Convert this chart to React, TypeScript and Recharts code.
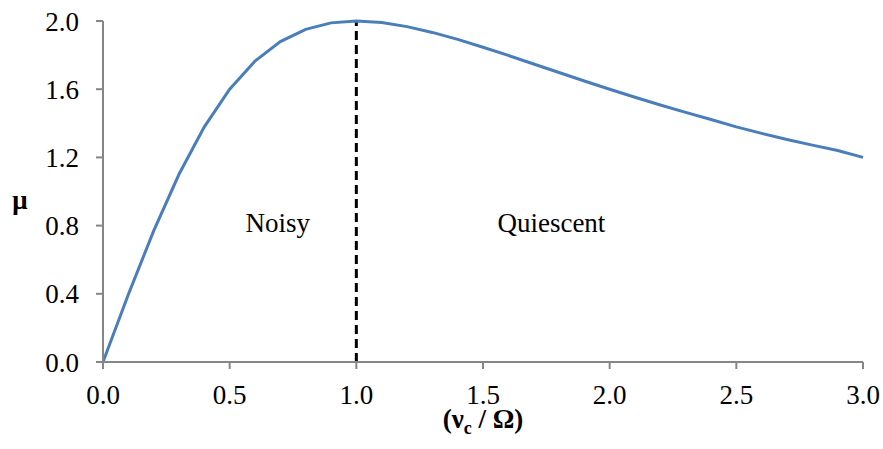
import React from 'react';
import {
  LineChart,
  Line,
  XAxis,
  YAxis,
  ReferenceLine,
  ReferenceDot,
} from 'recharts';

// frequency ratio (νc / Ω)
const ratio = [
  0, 0.1, 0.2, 0.3, 0.4, 0.5, 0.6, 0.7, 0.8, 0.9, 1.0, 1.1, 1.2, 1.3, 1.4, 1.5,
  1.6, 1.7, 1.8, 1.9, 2.0, 2.1, 2.2, 2.3, 2.4, 2.5, 2.6, 2.7, 2.8, 2.9, 3.0,
];
// μ at each ratio
const mu = [
  0, 0.396, 0.769, 1.101, 1.379, 1.6, 1.765, 1.879, 1.951, 1.989, 2.0, 1.991,
  1.967, 1.933, 1.892, 1.846, 1.798, 1.748, 1.698, 1.648, 1.6, 1.553, 1.507,
  1.464, 1.422, 1.379, 1.341, 1.305, 1.272, 1.240, 1.2,
];

const xTicks = [0, 0.5, 1.0, 1.5, 2.0, 2.5, 3.0];
const yTicks = [0, 0.4, 0.8, 1.2, 1.6, 2.0];

// region labels: [text, x, y]
const regions: [string, number, number][] = [
  ['Noisy', 0.69, 0.79],
  ['Quiescent', 1.77, 0.79],
];

const data = ratio.map((r, i) => ({ r, mu: mu[i] }));

const FONT = 'Liberation Serif';
const AXIS = '#868686';

const XTitle = (props: any) => {
  const vb = props.viewBox;
  return (
    <text
      x={vb.x + vb.width / 2}
      y={vb.y + 66}
      textAnchor="middle"
      fontFamily={FONT}
      fontSize={27}
      fontWeight="bold"
      fill="#000"
    >
      <tspan>(ν</tspan>
      <tspan dy={6} fontSize={18}>c</tspan>
      <tspan dy={-6}> / Ω)</tspan>
    </text>
  );
};

const YTitle = () => (
  <text x={20} y={209} textAnchor="middle" fontFamily={FONT} fontSize={27} fontWeight="bold" fill="#000">
    μ
  </text>
);

const RegionLabel = (text: string) => (props: any) => {
  const vb = props.viewBox;
  return (
    <text x={vb.x} y={vb.y} dy={5} textAnchor="middle" fontFamily={FONT} fontSize={27} fill="#000">
      {text}
    </text>
  );
};

export default function App() {
  return (
    <div style={{ position: 'absolute', left: 0, top: 0, width: 883, height: 449, background: '#fff' }}>
      <LineChart width={883} height={449} data={data} margin={{ top: 21, right: 20, left: 0, bottom: 0 }}>
        <XAxis
          dataKey="r"
          type="number"
          domain={[0, 3]}
          ticks={xTicks}
          tickFormatter={(v: number) => v.toFixed(1)}
          height={87}
          stroke={AXIS}
          strokeWidth={2}
          tickSize={7}
          tickMargin={16}
          tick={{ fill: '#000', fontSize: 27, fontFamily: FONT }}
          label={<XTitle />}
        />
        <YAxis
          type="number"
          domain={[0, 2]}
          ticks={yTicks}
          tickFormatter={(v: number) => v.toFixed(1)}
          width={103}
          stroke={AXIS}
          strokeWidth={2}
          tickSize={7}
          tickMargin={17}
          tick={{ fill: '#000', fontSize: 27, fontFamily: FONT }}
          label={<YTitle />}
        />
        <ReferenceLine x={1} stroke="#000" strokeWidth={3} strokeDasharray="9 5" />
        {regions.map(([t, x, y]) => (
          <ReferenceDot key={t} x={x} y={y} r={0} stroke="none" fill="none" label={RegionLabel(t)} />
        ))}
        <Line
          dataKey="mu"
          type="linear"
          stroke="#4a7ebb"
          strokeWidth={3}
          dot={false}
          isAnimationActive={false}
        />
      </LineChart>
    </div>
  );
}
